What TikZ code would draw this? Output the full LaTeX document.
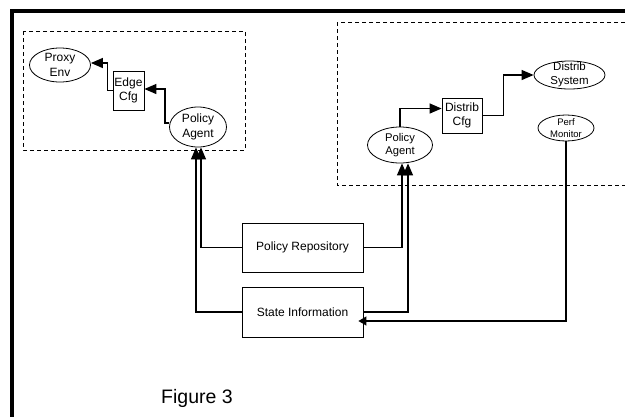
\documentclass[tikz,border=0pt]{standalone}
\usepackage{fontspec}
\setmainfont{Liberation Sans}
\usetikzlibrary{shapes.geometric,arrows.meta}
\begin{document}
\begin{tikzpicture}[x=1pt,y=-1pt,
  ell/.style={draw, ellipse, line width=0.8pt, inner sep=0pt},
  box/.style={draw, rectangle, line width=0.8pt, inner sep=0pt},
  lbl/.style={align=center, inner sep=0pt, font=\fontsize{12}{14.5}\selectfont},
  grp/.style={draw, dash pattern=on 4pt off 3pt, line width=0.6pt},
  con/.style={line width=1.3pt},
  arr/.style={con, -{Triangle[length=12pt,width=10pt]}},
  sarr/.style={con, -{Triangle[length=8pt,width=9pt]}}]
\useasboundingbox (0,0) rectangle (625,416);
% frame
\draw[line width=3.5pt] (12,420) -- (12,11) -- (630,11);
% groups
\draw[grp] (23,31) rectangle (245,150);
\draw[grp] (337,22) rectangle (640,185);
% left group
\node[ell, minimum width=61pt, minimum height=34pt] (proxy) at (60,65) {};
\node[lbl] (proxyT) at (proxy) {Proxy\\Env};
\node[box, lbl, minimum width=31pt, minimum height=39pt] (edge) at (128.5,90.5) {Edge\\Cfg};
\node[ell, minimum width=57pt, minimum height=40pt] (paL) at (198,127) {};
\node[lbl] (paLT) at (paL) {Policy\\Agent};
% right group
\node[ell, minimum width=65pt, minimum height=36pt] (paR) at (400,145) {};
\node[lbl, font=\fontsize{11.2}{13.5}\selectfont] (paRT) at (paR) {Policy\\Agent};
\node[box, lbl, minimum width=40pt, minimum height=35pt] (dcfg) at (462,115.5) {Distrib\\Cfg};
\node[ell, minimum width=71pt, minimum height=28pt] (dsys) at (569.5,75) {};
\node[lbl, font=\fontsize{11.5}{14}\selectfont] (dsysT) at (dsys) {Distrib\\System};
\node[ell, minimum width=56pt, minimum height=26pt] (perf) at (566,128) {};
\node[lbl, font=\fontsize{9.5}{12.3}\selectfont] (perfT) at (perf) {Perf\\Monitor};
% bottom boxes
\node[box, lbl, minimum width=121pt, minimum height=49pt] (repo) at (302.5,247.5) {Policy Repository};
\node[box, lbl, minimum width=121pt, minimum height=50pt] (state) at (302.5,312) {State Information};
\node[anchor=base west, inner sep=0pt, font=\fontsize{19.5}{23}\selectfont] (fig) at (161,403) {Figure 3};
% connectors
\draw[arr] (edge.west) -- ++(-5,0) |- ([yshift=2pt]proxy.east);
\draw[arr] ([yshift=4pt]paL.west) -- ++(-4,0) |- ([yshift=1.5pt]edge.east);
\draw[arr] (paR.north) |- ([yshift=7pt]dcfg.west);
\draw[arr] (dcfg.east) -- ++(21,0) |- (dsys.west);
\draw[arr] (repo.west) -| ([xshift=3pt]paL.south);
\draw[arr] (state.west) -| ([xshift=-2pt]paL.south);
\draw[arr] (repo.east) -| ([xshift=2pt]paR.south);
\draw[arr] (state.east) -| ([xshift=8pt]paR.south);
\draw[sarr] (perf.south) |- ([xshift=-5pt,yshift=-9pt]state.east);
\end{tikzpicture}
\end{document}
